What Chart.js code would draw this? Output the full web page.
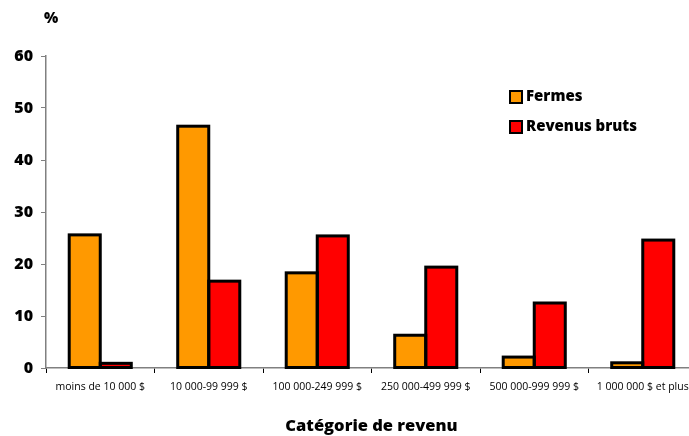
<!DOCTYPE html>
<html>
<head>
<meta charset="utf-8">
<script src="https://cdn.jsdelivr.net/npm/chart.js@4"></script>
<style>
  html, body { margin: 0; padding: 0; background: #fff; overflow: hidden; }
  #wrap { width: 700px; height: 436px; }
</style>
</head>
<body>
<div id="wrap"><canvas id="c" width="700" height="436"></canvas></div>
<script>
// Répartition des fermes et des revenus bruts par catégorie de revenu (%)
const categories = [
  'moins de 10 000 $',
  '10 000-99 999 $',
  '100 000-249 999 $',
  '250 000-499 999 $',
  '500 000-999 999 $',
  '1 000 000 $ et plus'
];
const fermes = [25.6, 46.5, 18.3, 6.3, 2.1, 1.0];
const revenusBruts = [0.9, 16.7, 25.4, 19.4, 12.5, 24.6];
const yTicks = [0, 10, 20, 30, 40, 50, 60];

const FONT = '"Open Sans", Lato, sans-serif';

// Contour noir centré sur le bord de chaque barre
const barOutline = {
  id: 'barOutline',
  afterDatasetsDraw(chart) {
    const ctx = chart.ctx;
    ctx.save();
    ctx.strokeStyle = '#000';
    ctx.lineWidth = 3;
    ctx.lineJoin = 'miter';
    chart.data.datasets.forEach((ds, i) => {
      chart.getDatasetMeta(i).data.forEach(bar => {
        const p = bar.getProps(['x', 'y', 'base', 'width'], true);
        ctx.strokeRect(p.x - p.width / 2, p.y, p.width, p.base - p.y);
      });
    });
    ctx.restore();
  }
};

// Légende dessinée dans la zone du graphique
const insideLegend = {
  id: 'insideLegend',
  afterDraw(chart) {
    const ctx = chart.ctx;
    ctx.save();
    ctx.font = '800 15px ' + FONT;
    ctx.textBaseline = 'middle';
    chart.data.datasets.forEach((ds, i) => {
      const x = 510, y = 97 + i * 30;
      ctx.fillStyle = ds.backgroundColor;
      ctx.fillRect(x, y - 6, 12, 12);
      ctx.strokeStyle = '#000';
      ctx.lineWidth = 2;
      ctx.strokeRect(x, y - 6, 12, 12);
      ctx.fillStyle = '#000';
      ctx.fillText(ds.label, x + 16, y);
    });
    // unité de l'axe vertical
    ctx.font = '800 15px ' + FONT;
    ctx.textAlign = 'left';
    ctx.fillText('%', 44, 19);
    ctx.restore();
  }
};

new Chart(document.getElementById('c'), {
  type: 'bar',
  data: {
    labels: categories,
    datasets: [
      { label: 'Fermes', data: fermes, backgroundColor: '#FF9900', borderWidth: 0 },
      { label: 'Revenus bruts', data: revenusBruts, backgroundColor: '#FF0000', borderWidth: 0 }
    ]
  },
  options: {
    responsive: false,
    animation: false,
    events: [],
    layout: { padding: { top: 56, right: 3, left: 0, bottom: 0 } },
    datasets: { bar: { categoryPercentage: 0.572, barPercentage: 1.0 } },
    plugins: {
      legend: { display: false },
      tooltip: { enabled: false }
    },
    scales: {
      x: {
        grid: { drawOnChartArea: false, offset: true, tickLength: 5, color: '#000' },
        border: { color: '#808080', width: 1.5 },
        ticks: { color: '#000', font: { family: FONT, size: 10.5 }, maxRotation: 0, padding: 8 },
        title: {
          display: true,
          text: 'Catégorie de revenu',
          color: '#000',
          font: { family: FONT, size: 16.5, weight: 800 },
          padding: { top: 18, bottom: 0 }
        },
        afterFit(scale) { scale.height = 68; }
      },
      y: {
        min: 0,
        max: 60,
        afterBuildTicks(scale) { scale.ticks = yTicks.map(v => ({ value: v })); },
        grid: { drawOnChartArea: false, tickLength: 5, color: '#808080' },
        border: { color: '#808080', width: 1.5 },
        ticks: { color: '#000', font: { family: FONT, size: 16, weight: 800 }, padding: 8 },
        afterFit(scale) { scale.width = 46; }
      }
    }
  },
  plugins: [barOutline, insideLegend]
});
</script>
</body>
</html>
